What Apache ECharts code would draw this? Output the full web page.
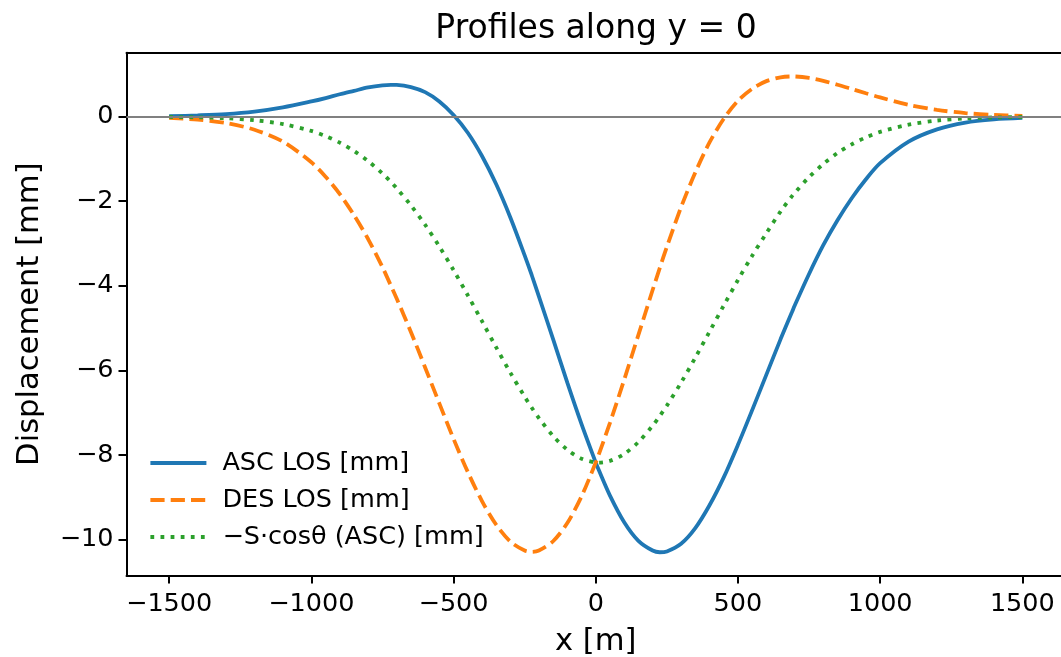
<!DOCTYPE html>
<html>
<head>
<meta charset="utf-8">
<script src="https://cdn.jsdelivr.net/npm/echarts@6/dist/echarts.min.js"></script>
<style>
html,body{margin:0;padding:0;background:#fff;}
#chart{width:1061px;height:657px;}
</style>
</head>
<body>
<div id="chart"></div>
<script>
// x positions of the profile samples [m]
const xs = [-1500,-1400,-1300,-1200,-1100,
  -1000,-950,-900,-850,-800,-750,-720,-700,-650,-600,-550,-500,-450,-400,-350,-300,-250,-225,-200,-150,-100,-50,
  0,10,50,100,150,200,225,250,300,350,400,450,500,550,600,650,690,700,750,800,850,900,950,1000,
  1100,1200,1300,1400,1500];
// ASC LOS [mm]
const ascLos = [0.01,0.03,0.06,0.12,0.22,
  0.36,0.44,0.53,0.61,0.69,0.74,0.752,0.75,0.70,0.58,0.36,0.04,-0.38,-0.93,-1.60,-2.39,-3.28,-3.75,-4.25,-5.26,-6.29,-7.27,
  -8.18,-8.345,-8.96,-9.59,-10.03,-10.26,-10.30,-10.28,-10.10,-9.73,-9.19,-8.53,-7.76,-6.94,-6.10,-5.26,-4.62,-4.46,-3.72,-3.04,-2.45,-1.93,-1.48,-1.10,
  -0.59,-0.30,-0.14,-0.065,-0.03];
// DES LOS [mm]
const desLos = [-0.03,-0.07,-0.15,-0.31,-0.59,
  -1.08,-1.42,-1.83,-2.33,-2.90,-3.56,-4.00,-4.30,-5.09,-5.93,-6.78,-7.62,-8.40,-9.09,-9.65,-10.05,-10.26,-10.29,-10.26,-10.04,-9.61,-8.98,
  -8.18,-8.00,-7.24,-6.22,-5.16,-4.10,-3.58,-3.08,-2.14,-1.32,-0.61,-0.05,0.375,0.66,0.84,0.93,0.951,0.95,0.915,0.845,0.755,0.655,0.553,0.455,
  0.28,0.16,0.084,0.041,0.018];
// -S·cosθ (ASC) [mm]
const sCos = [-0.007,-0.016,-0.038,-0.084,-0.174,
  -0.338,-0.459,-0.615,-0.811,-1.053,-1.346,-1.547,-1.693,-2.097,-2.557,-3.070,-3.629,-4.223,-4.837,-5.456,-6.058,-6.622,-6.883,-7.127,-7.551,-7.876,-8.088,
  -8.177,-8.18,-8.139,-7.976,-7.694,-7.307,-7.080,-6.833,-6.290,-5.700,-5.085,-4.467,-3.863,-3.289,-2.756,-2.240,-1.880,-1.800,-1.430,-1.120,-0.860,-0.655,-0.490,-0.360,
  -0.190,-0.092,-0.043,-0.019,-0.008];
// tick labels
const xTicks = [-1500,-1000,-500,0,500,1000,1500];
const yTicks = [-10,-8,-6,-4,-2,0];
const seriesNames = ['ASC LOS [mm]','DES LOS [mm]','\u2212S\u00b7cos\u03b8 (ASC) [mm]'];

const FONT = 'DejaVu Sans';
const fmt = v => (v < 0 ? '\u2212' + Math.abs(v) : String(v));
const pairs = arr => xs.map((x, i) => [x, arr[i]]);

const chart = echarts.init(document.getElementById('chart'), null, {renderer: 'canvas'});
const axisLineStyle = {color: '#000', width: 2};

chart.setOption({
  animation: false,
  backgroundColor: '#fff',
  title: {
    text: 'Profiles along y = 0',
    left: 591,
    textAlign: 'center',
    top: 8,
    textStyle: {fontFamily: FONT, fontSize: 33, fontWeight: 'normal', color: '#000'}
  },
  grid: {left: 126.5, right: -4, top: 52.8, bottom: 81.5, containLabel: false, outerBoundsMode: 'none'},
  legend: {
    data: seriesNames,
    orient: 'vertical',
    left: 148.5,
    top: 450,
    padding: 0,
    itemWidth: 56,
    itemHeight: 14,
    itemGap: 11,
    itemStyle: {opacity: 0},
    lineStyle: {width: 3.8},
    textStyle: {fontFamily: FONT, fontSize: 25.5, color: '#000', lineHeight: 26, padding: [0, 0, 0, 11]}
  },
  xAxis: [{
    type: 'value', min: -1650, max: 1650, position: 'bottom',
    axisLine: {show: true, onZero: false, lineStyle: axisLineStyle},
    axisTick: {show: true, length: 8, customValues: xTicks, lineStyle: axisLineStyle},
    axisLabel: {customValues: xTicks, formatter: fmt, fontFamily: FONT, fontSize: 25.5, color: '#000', margin: 16},
    splitLine: {show: false},
    name: 'x [m]', nameLocation: 'middle', nameGap: 51,
    nameTextStyle: {fontFamily: FONT, fontSize: 30.6, color: '#000'}
  }, {
    type: 'value', min: -1650, max: 1650, position: 'top',
    axisLine: {show: true, onZero: false, lineStyle: axisLineStyle},
    axisTick: {show: false}, axisLabel: {show: false}, splitLine: {show: false}
  }],
  yAxis: [{
    type: 'value', min: -10.85, max: 1.51,
    axisLine: {show: true, onZero: false, lineStyle: axisLineStyle},
    axisTick: {show: true, length: 8, customValues: yTicks, lineStyle: axisLineStyle},
    axisLabel: {customValues: yTicks, formatter: fmt, fontFamily: FONT, fontSize: 25.5, color: '#000', margin: 13},
    splitLine: {show: false},
    name: 'Displacement [mm]', nameLocation: 'middle', nameGap: 81,
    nameTextStyle: {fontFamily: FONT, fontSize: 30.6, color: '#000'}
  }],
  series: [
    {
      name: 'zero', type: 'line', data: [], z: 1, silent: true,
      markLine: {silent: true, symbol: 'none', label: {show: false},
        lineStyle: {color: '#808080', width: 1.8, type: 'solid'},
        data: [{yAxis: 0}]}
    },
    {
      name: seriesNames[0], type: 'line', data: pairs(ascLos), smooth: 0.3,
      showSymbol: false, symbol: 'none', z: 3,
      lineStyle: {color: '#1f77b4', width: 3.8, type: 'solid'},
      itemStyle: {color: '#1f77b4'}
    },
    {
      name: seriesNames[1], type: 'line', data: pairs(desLos), smooth: 0.3,
      showSymbol: false, symbol: 'none', z: 3,
      lineStyle: {color: '#ff7f0e', width: 3.8, type: [14.2, 6.1], cap: 'butt'},
      itemStyle: {color: '#ff7f0e'}
    },
    {
      name: seriesNames[2], type: 'line', data: pairs(sCos), smooth: 0.3,
      showSymbol: false, symbol: 'none', z: 3,
      lineStyle: {color: '#2ca02c', width: 3.8, type: [3.8, 6.3], cap: 'butt'},
      itemStyle: {color: '#2ca02c'}
    }
  ]
});
</script>
</body>
</html>
